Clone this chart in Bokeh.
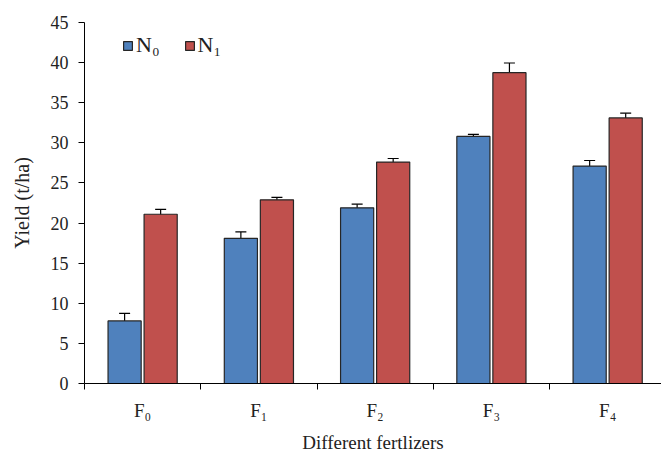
from bokeh.plotting import figure
from bokeh.models import ColumnDataSource, Whisker, TeeHead, FixedTicker, Range1d, Legend, LegendItem
from bokeh.embed import file_html
from bokeh.resources import INLINE

categories = ["F₀", "F₁", "F₂", "F₃", "F₄"]
n0_values = [7.8, 18.1, 21.9, 30.8, 27.1]
n0_errors = [0.95, 0.8, 0.45, 0.25, 0.7]
n1_values = [21.1, 22.9, 27.6, 38.75, 33.1]
n1_errors = [0.6, 0.3, 0.45, 1.2, 0.6]
series_names = ["N₀", "N₁"]
y_ticks = [0, 5, 10, 15, 20, 25, 30, 35, 40, 45]

FONT = "Liberation Serif"
BLUE = "#4F81BD"
RED = "#C0504D"

W, H = 661, 456
p = figure(width=W, height=H, output_backend="svg", toolbar_location=None,
           x_range=Range1d(0, 4.963), y_range=Range1d(0, 45),
           min_border_left=84, min_border_right=0, min_border_top=22, min_border_bottom=73)
p.outline_line_color = None
p.xgrid.visible = False
p.ygrid.visible = False
p.background_fill_color = "white"

off = 0.155
bw = 0.285
centers = [i + 0.5 for i in range(len(categories))]
x0 = [c - off for c in centers]
x1 = [c + off for c in centers]

s0 = ColumnDataSource(dict(x=x0, top=n0_values,
                           lo=[v - e for v, e in zip(n0_values, n0_errors)],
                           hi=[v + e for v, e in zip(n0_values, n0_errors)]))
s1 = ColumnDataSource(dict(x=x1, top=n1_values,
                           lo=[v - e for v, e in zip(n1_values, n1_errors)],
                           hi=[v + e for v, e in zip(n1_values, n1_errors)]))

r0 = p.vbar(x="x", top="top", width=bw, source=s0, fill_color=BLUE, line_color="#262626", line_width=1.2)
r1 = p.vbar(x="x", top="top", width=bw, source=s1, fill_color=RED, line_color="#262626", line_width=1.2)

for s in (s0, s1):
    w = Whisker(base="x", lower="lo", upper="hi", source=s, line_color="black", line_width=1.2,
                upper_head=TeeHead(size=11, line_color="black", line_width=1.2),
                lower_head=TeeHead(size=11, line_color="black", line_width=1.2))
    p.add_layout(w)

# axes
p.xaxis.ticker = FixedTicker(ticks=centers, minor_ticks=[0, 1, 2, 3, 4])
p.xaxis.major_label_overrides = {c: lab for c, lab in zip(centers, categories)}
p.xaxis.major_tick_out = 0
p.xaxis.major_tick_in = 0
p.xaxis.minor_tick_out = 6
p.xaxis.minor_tick_in = 0
p.xaxis.minor_tick_line_color = "black"
p.xaxis.axis_line_color = "black"
p.xaxis.major_label_text_font = FONT
p.xaxis.major_label_text_font_size = "19px"
p.xaxis.major_label_text_color = "#222222"
p.xaxis.major_label_standoff = 10
p.xaxis.axis_label = "Different fertlizers"
p.xaxis.axis_label_text_font = FONT
p.xaxis.axis_label_text_font_size = "19px"
p.xaxis.axis_label_text_font_style = "normal"
p.xaxis.axis_label_text_color = "#222222"
p.xaxis.axis_label_standoff = 8

p.yaxis.ticker = FixedTicker(ticks=y_ticks)
p.yaxis.major_tick_out = 6
p.yaxis.major_tick_in = 0
p.yaxis.minor_tick_line_color = None
p.yaxis.axis_line_color = "black"
p.yaxis.major_tick_line_color = "black"
p.yaxis.major_label_text_font = FONT
p.yaxis.major_label_text_font_size = "18px"
p.yaxis.major_label_text_color = "#222222"
p.yaxis.major_label_standoff = 10
p.yaxis.axis_label = "Yield (t/ha)"
p.yaxis.axis_label_text_font = FONT
p.yaxis.axis_label_text_font_size = "20px"
p.yaxis.axis_label_text_font_style = "normal"
p.yaxis.axis_label_text_color = "#222222"
p.yaxis.axis_label_standoff = 15

legend = Legend(items=[LegendItem(label=series_names[0], renderers=[r0]),
                       LegendItem(label=series_names[1], renderers=[r1])],
                orientation="horizontal", location=(38, 325),
                label_text_font=FONT, label_text_font_size="22px",
                label_text_color="#222222",
                glyph_width=11, glyph_height=11, label_standoff=3, spacing=24,
                padding=6, margin=0, border_line_color=None, background_fill_alpha=0)
p.add_layout(legend)

open("out.html", "w").write(file_html(p, INLINE))
